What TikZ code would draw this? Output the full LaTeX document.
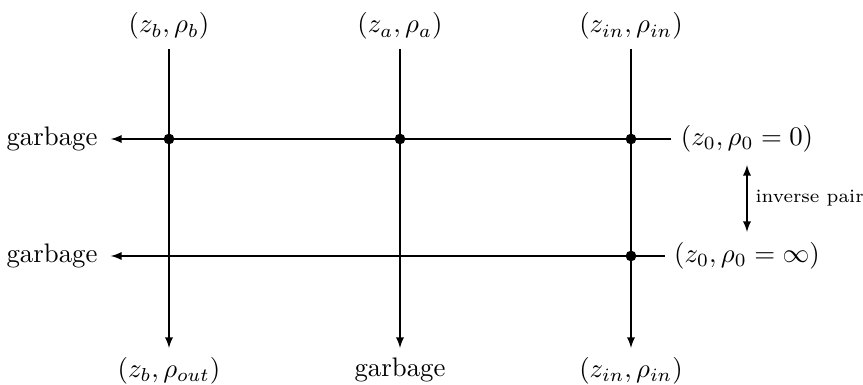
\documentclass[tikz,border=0pt]{standalone}
\usetikzlibrary{arrows}
\begin{document}
\begin{tikzpicture}[x=0.3731pt,y=-0.3731pt,
  wire/.style={draw=black,line width=0.4pt},
  dot/.style={circle,fill=black,inner sep=0pt,minimum size=4pt},
  lbl/.style={inner sep=3.33pt}]
\useasboundingbox (0,0) rectangle (863,385);
% top labels
\node[lbl,anchor=base] (tb) at (169,33) {$(z_b,\rho_b)$};
\node[lbl,anchor=base] (ta) at (400,33) {$(z_a,\rho_a)$};
\node[lbl,anchor=base] (tin) at (631,33) {$(z_{in},\rho_{in})$};
% bottom labels
\node[lbl,anchor=north] (bb) at (169,348) {$(z_b,\rho_{out})$};
\node[lbl,anchor=north] (ba) at (400,348) {garbage};
\node[lbl,anchor=north] (bin) at (631,348) {$(z_{in},\rho_{in})$};
% right labels
\node[lbl] (r1) at (747,139) {$(z_0,\rho_0=0)$};
\node[lbl] (r2) at (747,256) {$(z_0,\rho_0=\infty)$};
% left labels
\node[lbl,inner xsep=4.8pt] (g1) at (52,139) {garbage};
\node[lbl,inner xsep=4.8pt] (g2) at (52,256) {garbage};
% verticals
\draw[wire,-latex] (tb) -- (bb);
\draw[wire,-latex] (ta) -- (ba);
\draw[wire,-latex] (tin) -- (bin);
% horizontals
\draw[wire,-latex] (r1) -- (g1);
\draw[wire,-latex] (r2) -- (g2);
% dots
\node[dot] (d1) at (169,139) {};
\node[dot] (d2) at (400,139) {};
\node[dot] (d3) at (631,139) {};
\node[dot] (d4) at (631,256) {};
% inverse pair
\coordinate (ip1) at (747,165);
\coordinate (ip2) at (747,232);
\draw[wire,latex-latex] (ip1) -- node[right,font=\scriptsize,inner sep=3pt] (ipl) {inverse pair} (ip2);
\end{tikzpicture}
\end{document}
